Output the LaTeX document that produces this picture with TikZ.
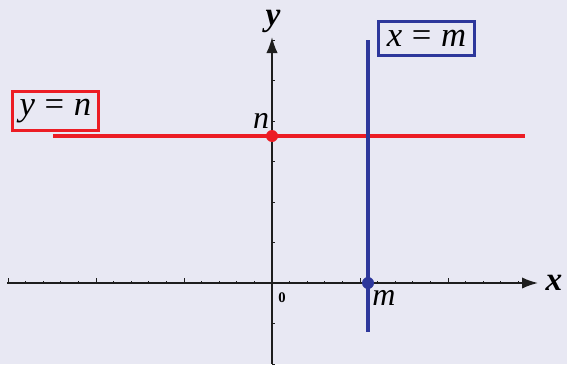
\documentclass[tikz,border=0pt]{standalone}
\usepackage{fontspec}
\setmainfont{Liberation Serif}
\usetikzlibrary{arrows.meta}
\definecolor{bg}{RGB}{232,232,243}
\definecolor{myred}{RGB}{236,28,36}
\definecolor{myblue}{RGB}{45,55,155}
\definecolor{axisc}{RGB}{30,30,30}
\newcommand{\msp}{\hspace{0.28em}}
\tikzset{
  axisline/.style={axisc, line width=1.3pt, -{Latex[length=12pt,width=8.5pt]}},
  tickmark/.style={axisc, line width=0.7pt},
  redline/.style={myred, line width=2.3pt},
  blueline/.style={myblue, line width=2.3pt},
  eqbox/.style={draw, line width=2.2pt, fill=bg, inner sep=0pt, font=\fontsize{26}{28}\selectfont},
  lbl/.style={font=\fontsize{24}{26}\selectfont\itshape, inner sep=0pt},
  axlbl/.style={font=\fontsize{25}{28}\selectfont\bfseries\itshape, inner sep=0pt},
  dot/.style={circle, inner sep=0pt, minimum size=9pt}
}
\begin{document}
\begin{tikzpicture}[x=0.75pt, y=-0.75pt]
\fill[bg] (0,0) rectangle (567,364);
\useasboundingbox (0,0) rectangle (567,364);
% coordinates
\coordinate (xl) at (7,283);
\coordinate (xr) at (538,283);
\coordinate (yb) at (272,364);
\coordinate (yt) at (272,37);
\coordinate (rl) at (53,136);
\coordinate (rr) at (525,136);
\coordinate (bt) at (368,40);
\coordinate (bb) at (368,332);
% ticks
\foreach \k in {-15,...,14}{
  \pgfmathsetmacro{\tx}{272+\k*17.6}
  \pgfmathtruncatemacro{\mj}{mod(abs(\k),5)==0 ? 1 : 0}
  \ifnum\mj=1
    \draw[tickmark] (\tx,283) -- (\tx,278);
  \else
    \draw[tickmark] (\tx,283) -- (\tx,280.5);
  \fi
}
\foreach \k in {-2,-1,1,2,3,4,5,6}{
  \pgfmathsetmacro{\ty}{283-\k*40.5}
  \draw[tickmark] (272,\ty) -- (275,\ty);
}
% axes
\draw[axisline] (xl) -- (xr);
\draw[axisline] (yb) -- (yt);
% lines
\draw[redline] (rl) -- (rr);
\draw[blueline] (bt) -- (bb);
% points
\node[dot, fill=myred] (pn) at (272,136) {};
\node[dot, fill=myblue] (pm) at (368,283) {};
% labels
\node[lbl, anchor=base] (ln) at (261,128) {n};
\node[lbl, anchor=base] (lm) at (384,305) {m};
\node[font=\fontsize{11}{12}\selectfont\bfseries, anchor=base, inner sep=0pt] (l0) at (282,302) {0};
\node[axlbl, anchor=base] (ly) at (273,26) {y};
\node[axlbl, anchor=base] (lx) at (554,290) {x};
\node[eqbox, draw=myred, anchor=north west, minimum width=64.5pt, minimum height=29pt] (en) at (11,90) {\textit{y}\msp=\msp\textit{n}};
\node[eqbox, draw=myblue, anchor=north west, minimum width=72pt, minimum height=25.5pt] (em) at (377,20) {\textit{x}\msp=\msp\textit{m}};
\end{tikzpicture}
\end{document}
